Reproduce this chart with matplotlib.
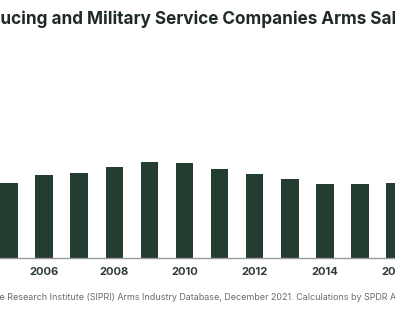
import matplotlib.pyplot as plt
import matplotlib as mpl

mpl.rcParams['font.family'] = ['Inter', 'DejaVu Sans']

# Top 100 arms sales, US$ billions
years = [2005, 2006, 2007, 2008, 2009, 2010, 2011, 2012, 2013, 2014, 2015, 2016]
sales = [375, 414, 425, 454, 479, 477, 444, 419, 397, 370, 372, 374]
tick_years = [2006, 2008, 2010, 2012, 2014, 2016]

title = 'Top 100 Arms-Producing and Military Service Companies Arms Sales (US$ Billions)'
source = ('Source: Stockholm International Peace Research Institute (SIPRI) Arms Industry '
          'Database, December 2021. Calculations by SPDR Americas Research.')

W, H = 395, 330
fig = plt.figure(figsize=(W / 100, H / 100), dpi=100)
renderer = fig.canvas.get_renderer()

bar_color = '#243d31'
text_dark = '#1f2b29'

ax = fig.add_axes([0, (H - 258) / H, 1, 200 / H])
ax.bar(years, sales, width=0.5, color=bar_color)
ax.set_xlim(2004.741, 2015.988)
ax.set_ylim(0, 1000)
for s in ['top', 'left', 'right']:
    ax.spines[s].set_visible(False)
ax.spines['bottom'].set_color('#9a9a9a')
ax.spines['bottom'].set_linewidth(1.0)
ax.set_yticks([])
ax.set_xticks(tick_years)
ax.set_xticklabels([str(y) for y in tick_years], fontsize=8, fontweight='bold',
                   color='#2e3b38')
ax.tick_params(axis='x', length=0, pad=6.5)


def text_width(s, **kw):
    t = fig.text(0, 0, s, **kw)
    w = t.get_window_extent(renderer).width
    t.remove()
    return w


def place_cut(full, prefix, shown, x_px, y_px, span_px, base_size, **kw):
    # scale the font so `shown` covers span_px, then start `shown` at x_px
    size = base_size * span_px / text_width(shown, fontsize=base_size, **kw)
    w = text_width(prefix, fontsize=size, **kw)
    fig.text((x_px - w) / W, 1 - y_px / H, full, fontsize=size, va='baseline',
             ha='left', **kw)


place_cut(title, 'Top 100 Arms-Prod',
          'ucing and Military Service Companies Arms Sa',
          0, 24.5, 390.5, 10.5, fontweight='bold', color=text_dark)

place_cut(source, 'Source: Stockholm International Peac',
          'e Research Institute (SIPRI) Arms Industry Database, December 2021. '
          'Calculations by SPDR',
          -1, 300.5, 389, 6.5, color='#6a6a6a')

fig.savefig('out.png', dpi=100)
